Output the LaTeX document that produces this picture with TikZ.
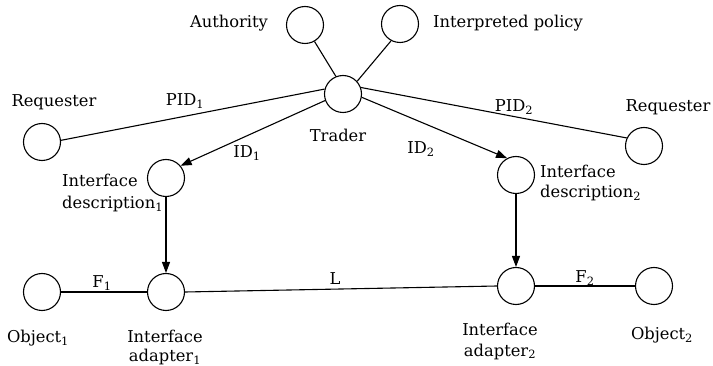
\documentclass[tikz,border=0pt]{standalone}
\usepackage{fontspec}
\setmainfont{DejaVu Serif}
\usetikzlibrary{arrows.meta}

\tikzset{
  unit/.style={circle, draw, line width=1.1pt, minimum size=37pt, inner sep=0pt},
  lbl/.style={inner sep=0pt, anchor=base, font=\fontsize{16.3}{19}\selectfont},
  lblw/.style={lbl, anchor=base west},
  link/.style={line width=1.1pt},
  flow/.style={line width=1.1pt, -{Triangle[length=11pt, width=8pt]}}
}
\newcommand{\subidx}[1]{\textsubscript{#1}}

\begin{document}
\begin{tikzpicture}[x=1pt, y=-1pt]
  \useasboundingbox (0,0) rectangle (713,366);

  % components
  \node[unit] (auth)    at (305,25)  {};
  \node[unit] (policy)  at (400,24)  {};
  \node[unit] (trader)  at (343,94)  {};
  \node[unit] (reqA)    at (42,142)  {};
  \node[unit] (reqB)    at (644,146) {};
  \node[unit] (descA)   at (166,178) {};
  \node[unit] (descB)   at (516,175) {};
  \node[unit] (adA)     at (166,292) {};
  \node[unit] (adB)     at (516,286) {};
  \node[unit] (objA)    at (42,292)  {};
  \node[unit] (objB)    at (654,286) {};

  % names of the components
  \node[lbl] (tAuth)   at (229,28)  {Authority};
  \node[lbl] (tPolicy) at (508,28)  {Interpreted policy};
  \node[lbl] (tReqA)   at (54,107)  {Requester};
  \node[lbl] (tReqB)   at (668,112) {Requester};
  \node[lbl] (tTrader) at (338,142) {Trader};
  \node[lblw] (tDescA1) at (62,187)  {Interface};
  \node[lblw] (tDescA2) at (62,209)  {description\subidx{1}};
  \node[lblw] (tDescB1) at (540,178) {Interface};
  \node[lblw] (tDescB2) at (540,198) {description\subidx{2}};
  \node[lbl] (tObjA)   at (38,343)  {Object\subidx{1}};
  \node[lbl] (tObjB)   at (662,340) {Object\subidx{2}};
  \node[lbl] (tAdA1)   at (165,343) {Interface};
  \node[lbl] (tAdA2)   at (165,362) {adapter\subidx{1}};
  \node[lbl] (tAdB1)   at (500,336) {Interface};
  \node[lbl] (tAdB2)   at (500,356) {adapter\subidx{2}};

  % labels of the connections
  \node[lbl] (lPidA) at (185,106) {PID\subidx{1}};
  \node[lbl] (lPidB) at (514,112) {PID\subidx{2}};
  \node[lbl] (lIdA)  at (247,158) {ID\subidx{1}};
  \node[lbl] (lIdB)  at (421,154) {ID\subidx{2}};
  \node[lbl] (lFA)   at (102,288) {F\subidx{1}};
  \node[lbl] (lFB)   at (585,283) {F\subidx{2}};
  \node[lbl] (lL)    at (335,285) {L};

  % connections
  \draw[link] (auth.-60)    -- (trader.112);
  \draw[link] (policy.-118) -- (trader.42);
  \draw[link] (trader.165)  -- (reqA.5);
  \draw[link] (trader.20)   -- (reqB.155);
  \draw[flow] (trader.200)  -- (descA.40);
  \draw[flow] (trader.-10)  -- (descB.118);
  \draw[flow] (descA.south) -- (adA.north);
  \draw[flow] (descB.south) -- (adB.north);
  \draw[link] (objA.east)   -- (adA.west);
  \draw[link] (adA.east)    -- (adB.west);
  \draw[link] (adB.east)    -- (objB.west);
\end{tikzpicture}
\end{document}
